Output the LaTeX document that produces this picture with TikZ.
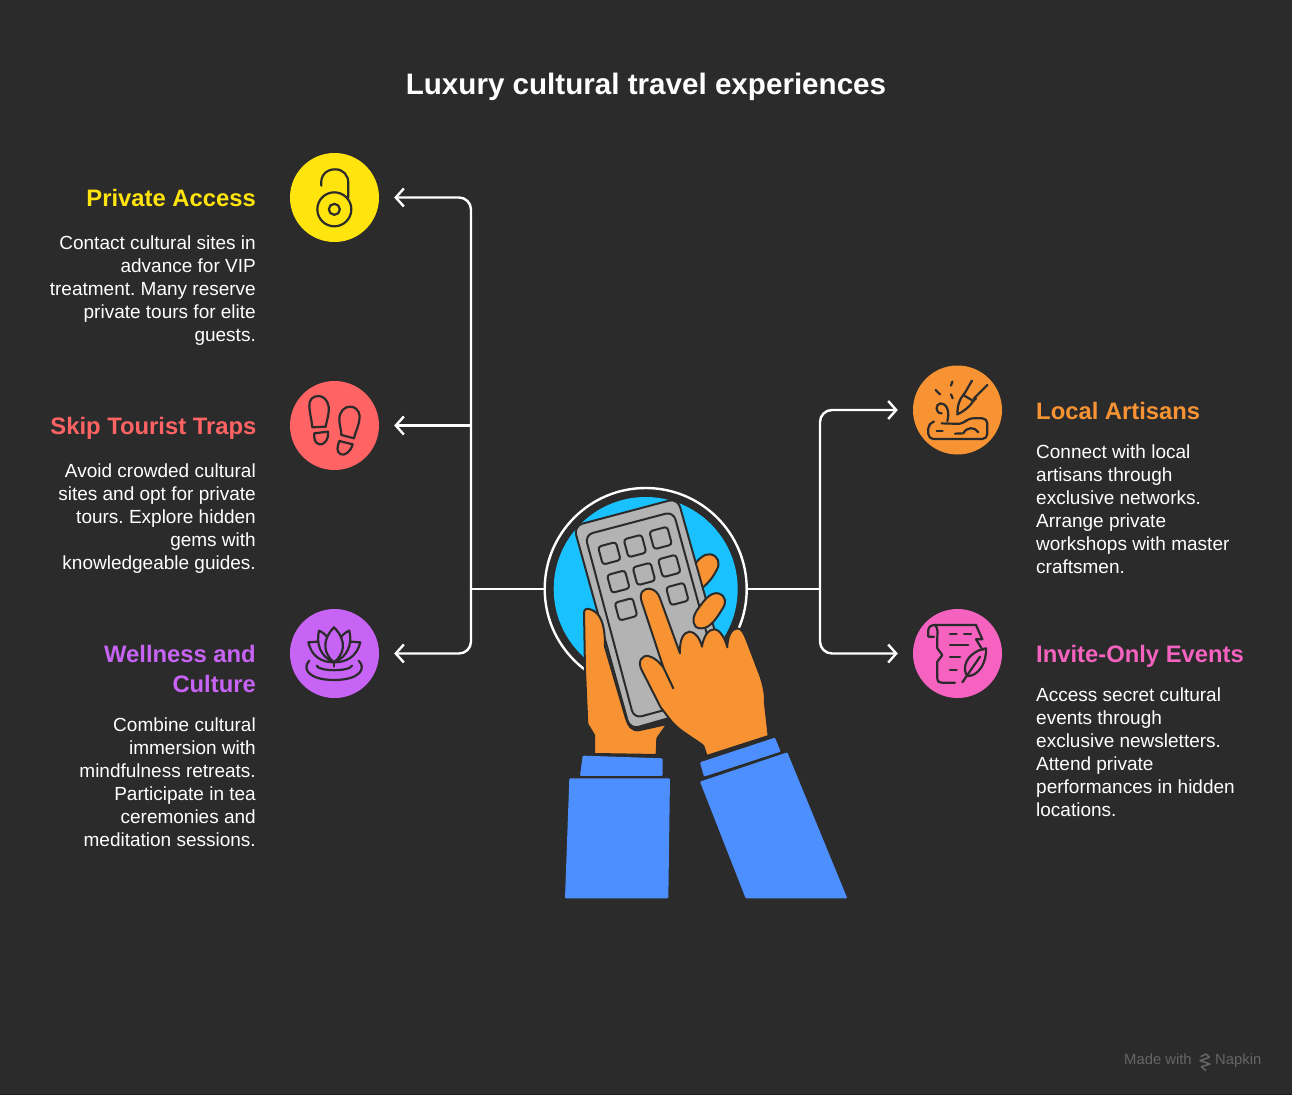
\documentclass[tikz,border=0pt]{standalone}
\usepackage{fontspec}
\setmainfont{Liberation Sans}
\usetikzlibrary{arrows.meta}
\frenchspacing
\definecolor{bg}{HTML}{2B2B2B}
\definecolor{cedge}{HTML}{1C1C1C}
\definecolor{cyel}{HTML}{FFE40D}
\definecolor{cred}{HTML}{FF6363}
\definecolor{cpur}{HTML}{C763F5}
\definecolor{cora}{HTML}{F79333}
\definecolor{cpin}{HTML}{F562C0}
\definecolor{cblu}{HTML}{1AC1FF}
\definecolor{csle}{HTML}{4D8FFF}
\definecolor{cgry}{HTML}{B3B3B3}
\definecolor{cfoot}{HTML}{666666}
\tikzset{
 iconball/.style={circle,minimum size=89pt,inner sep=0pt,fill=#1},
 conn/.style={draw=white,line width=2.4pt,-{Straight Barb[length=8pt,width=18pt,line width=2.4pt]}},
 trunk/.style={draw=white,line width=2.4pt},
 ink/.style={draw=bg,line width=2.2pt,line cap=round,line join=round},
 handink/.style={draw=bg,line width=2pt,line join=round,line cap=round},
 head/.style={inner sep=0pt,font=\bfseries\fontsize{23.8}{30}\selectfont},
 body/.style={inner sep=0pt,text=white,font=\fontsize{19}{23}\selectfont},
 key/.style={draw=bg,line width=2pt,fill=cgry,rounded corners=3pt,minimum size=18.5pt,inner sep=0pt,rotate=15},
 foot/.style={inner sep=0pt,text=cfoot,anchor=base west,font=\fontsize{14.8}{16}\selectfont},
}
\begin{document}
\begin{tikzpicture}[x=1pt,y=-1pt]
\useasboundingbox (0,0) rectangle (1292,1095);
\fill[bg] (0,0) rectangle (1292,1095);
\fill[cedge] (0,1093.5) rectangle (1292,1095);

\node[inner sep=0pt,text=white,anchor=base,font=\bfseries\fontsize{29.6}{36}\selectfont] (title) at (646,94) {Luxury cultural travel experiences};

% hub and icon balls
\fill[cblu] (645.7,589) circle (92);
\node[circle,draw=white,line width=2.4pt,minimum size=202pt,inner sep=0pt] (hub) at (645.7,589) {};
\node[iconball=cyel] (ipriv) at (334.5,197.5) {};
\node[iconball=cred] (iskip) at (334.5,425.5) {};
\node[iconball=cpur] (iwell) at (334.5,653.5) {};
\node[iconball=cora] (ilocal) at (957.5,410) {};
\node[iconball=cpin] (iinv) at (957.5,653.5) {};

% connectors
\coordinate (jl) at (471,589);
\coordinate (jr) at (820,589);
\coordinate (al) at (471,425.5);
\draw[trunk] (hub.west) -- (jl);
\draw[trunk] (hub.east) -- (jr);
\draw[conn,rounded corners=12pt] (jl) |- ([xshift=15pt]ipriv.east);
\draw[conn] (al) -- ([xshift=15pt]iskip.east);
\draw[conn,rounded corners=12pt] (jl) |- ([xshift=15pt]iwell.east);
\draw[conn,rounded corners=12pt] (jr) |- ([xshift=-15pt]ilocal.west);
\draw[conn,rounded corners=12pt] (jr) |- ([xshift=-15pt]iinv.west);

% left text
\node[head,text=cyel,anchor=base east] (hpriv) at (256,206.5) {Private Access};
\node[body,anchor=north east,align=right] (tpriv) at (256,235.5) {Contact cultural sites in\\advance for VIP\\treatment. Many reserve\\private tours for elite\\guests.};
\node[head,text=cred,anchor=base east] (hskip) at (256.5,434.5) {Skip Tourist Traps};
\node[body,anchor=north east,align=right] (tskip) at (256,463.5) {Avoid crowded cultural\\sites and opt for private\\tours. Explore hidden\\gems with\\knowledgeable guides.};
\node[head,text=cpur,anchor=north east,align=right] (hwell) at (256,645) {Wellness and\\Culture};
\node[body,anchor=north east,align=right] (twell) at (256,718) {Combine cultural\\immersion with\\mindfulness retreats.\\Participate in tea\\ceremonies and\\meditation sessions.};
% right text
\node[head,text=cora,anchor=base west] (hlocal) at (1036,419.5) {Local Artisans};
\node[body,anchor=north west,align=left] (tlocal) at (1036,444.5) {Connect with local\\artisans through\\exclusive networks.\\Arrange private\\workshops with master\\craftsmen.};
\node[head,text=cpin,anchor=base west] (hinv) at (1036,662.5) {Invite-Only Events};
\node[body,anchor=north west,align=left] (tinv) at (1036,687.5) {Access secret cultural\\events through\\exclusive newsletters.\\Attend private\\performances in hidden\\locations.};

% footer
\node[foot] (fmade) at (1124,1064) {Made with};
\node[foot] (fnap) at (1215,1064) {Napkin};
\begin{scope}[shift={(1110,1040)},x=0.3333pt,y=-0.3333pt]
\draw[cfoot,line width=1.5pt,line join=round] (272,50) -- (288,42) -- (298,52) -- (270,62) -- (300,72) -- (274,80) -- (288,92);
\end{scope}

% central illustration, reference zoom coordinates
\begin{scope}[shift={(530,470)},x=0.3333pt,y=-0.3333pt]
 % sleeves
 \fill[csle,rounded corners=1pt] (158,857) -- (398,865) -- (398,918) -- (150,918) -- cycle;
 \fill[csle,rounded corners=1pt] (118,925) -- (420,925) -- (415,1285) -- (105,1285) -- cycle;
 \fill[csle,rounded corners=1pt] (510,877) -- (735,803) -- (752,845) -- (522,920) -- cycle;
 \fill[csle,rounded corners=1pt] (510,935) -- (772,847) -- (952,1285) -- (647,1285) -- cycle;
 % ring finger behind keypad
 \path[fill=cora,handink] (490,290) .. controls (505,265) and (525,250) .. (542,253) .. controls (565,258) and (572,280) .. (560,300) .. controls (550,320) and (535,340) .. (515,355) -- cycle;
 % keypad
 \path[fill=cgry,handink,rounded corners=9pt] (131,168) -- (443,85) -- (612,688) -- (300,778) -- cycle;
 \path[handink,rounded corners=8pt] (165,195) -- (430,125) -- (580,672) -- (312,745) -- cycle;
 \foreach \n/\cx/\cy in {a/238/250,b/315/228,c/392/204,d/265/335,e/342/312,f/418/288,g/288/418,h/442/372}
   \node[key] (k\n) at (\cx,\cy) {};
 % left hand
 \path[fill=cora,handink] (162,425) .. controls (165,412) and (180,415) .. (195,425) .. controls (215,440) and (225,470) .. (225,530) -- (285,735) .. controls (295,770) and (305,785) .. (330,780) -- (412,762) -- (382,805) -- (380,855) -- (192,852) -- (192,795) -- (172,762) -- (165,600) -- cycle;
 % middle finger
 \path[fill=cora,handink] (497,470) .. controls (485,455) and (490,435) .. (505,415) .. controls (520,395) and (540,365) .. (565,370) .. controls (590,378) and (590,400) .. (575,420) .. controls (560,445) and (540,475) .. (515,475) .. controls (508,475) and (502,475) .. (497,470) -- cycle;
 % right hand
 \path[fill=cora,handink] (530,858) -- (520,828) .. controls (500,810) and (450,785) .. (425,755) -- (392,712) -- (335,600) .. controls (322,575) and (335,555) .. (355,558) .. controls (375,562) and (390,580) .. (400,592) -- (335,395) .. controls (325,365) and (345,355) .. (358,356) .. controls (375,358) and (385,370) .. (390,385) -- (450,550) .. controls (448,510) and (460,487) .. (478,485) .. controls (495,485) and (510,505) .. (516,530) .. controls (520,500) and (535,478) .. (552,478) .. controls (570,478) and (585,505) .. (592,532) .. controls (592,500) and (605,475) .. (622,475) .. controls (635,475) and (642,490) .. (650,510) -- (692,620) .. controls (705,660) and (705,680) .. (705,700) -- (716,798) -- cycle;
 \draw[handink] (400,592) -- (430,655);
\end{scope}

% lock and footprints
\begin{scope}[shift={(280,140)},x=0.3333pt,y=-0.3333pt]
 \draw[ink] (163,208) circle (17pt);
 \draw[ink] (163,208) circle (5.5pt);
 \draw[ink] (124,137) .. controls (120,105) and (140,88) .. (165,88) .. controls (190,88) and (205,105) .. (205,130) -- (205,172);
 \draw[ink] (97,862) -- (137,860) .. controls (142,835) and (148,820) .. (146,800) .. controls (143,780) and (130,768) .. (115,768) .. controls (98,768) and (86,780) .. (88,800) .. controls (90,825) and (95,840) .. (97,862) -- cycle;
 \draw[ink] (103,880) -- (144,875) .. controls (147,900) and (130,917) .. (118,913) .. controls (105,910) and (101,895) .. (103,880) -- cycle;
 \draw[ink] (184,885) -- (222,895) .. controls (228,870) and (240,850) .. (239,828) .. controls (237,810) and (225,800) .. (210,800) .. controls (193,800) and (178,815) .. (178,838) .. controls (178,855) and (184,870) .. (184,885) -- cycle;
 \draw[ink] (178,903) -- (218,913) .. controls (212,935) and (195,948) .. (182,943) .. controls (168,935) and (172,920) .. (178,903) -- cycle;
\end{scope}

% lotus
\begin{scope}[shift={(280,600)},x=0.3333pt,y=-0.3333pt]
 \draw[ink] (162,82) .. controls (120,125) and (135,165) .. (162,187) .. controls (190,165) and (205,125) .. (162,82) -- cycle;
 \draw[ink] (142,112) .. controls (135,102) and (125,95) .. (117,92) .. controls (108,130) and (120,170) .. (162,187);
 \draw[ink] (182,112) .. controls (190,102) and (200,95) .. (208,92) .. controls (217,130) and (205,170) .. (162,187);
 \draw[ink] (112,125) -- (85,127) .. controls (95,170) and (125,187) .. (162,187) .. controls (200,187) and (230,170) .. (241,127) -- (213,125);
 \draw[ink] (88,182) .. controls (65,205) and (85,240) .. (162,240) .. controls (240,240) and (260,205) .. (236,182);
 \draw[ink] (110,197) .. controls (115,215) and (210,215) .. (216,197);
 \draw[ink] (162,187) -- (162,200);
\end{scope}

% artisan
\begin{scope}[shift={(900,355)},x=0.3333pt,y=-0.3333pt]
 \draw[ink,rounded corners=5pt] (125,205) -- (188,207) -- (205,190) -- (262,190) -- (262,252) -- (85,252) -- (85,205) -- (102,200);
 \draw[ink] (142,198) .. controls (150,170) and (140,145) .. (122,145) .. controls (105,147) and (105,175) .. (125,175);
 \draw[ink] (172,178) .. controls (172,150) and (180,130) .. (190,120) -- (220,138) .. controls (210,155) and (190,170) .. (172,178) -- cycle;
 \draw[ink] (195,113) -- (216,77);
 \draw[ink] (222,130) -- (262,90);
 \draw[ink] (190,120) -- (195,113) (220,138) -- (228,130);
 \draw[ink] (107,105) -- (120,118) (157,80) -- (153,92) (153,118) -- (158,130);
 \draw[ink] (110,227) -- (128,227);
 \draw[ink] (165,236) -- (190,235) .. controls (200,215) and (225,215) .. (235,232);
\end{scope}

% scroll and quill
\begin{scope}[shift={(900,600)},x=0.3333pt,y=-0.3333pt]
 \draw[ink] (102,110) -- (85,110) -- (85,90) .. controls (85,80) and (95,75) .. (105,75) -- (228,75) -- (247,118) -- (228,118) -- (248,150);
 \draw[ink] (105,75) .. controls (115,85) and (112,100) .. (112,110) -- (112,145) -- (127,165) -- (112,185) -- (112,235) .. controls (112,245) and (118,248) .. (125,248) -- (165,248);
 \draw[ink] (150,103) -- (170,103) (192,103) -- (213,103) (150,135) -- (205,135) (150,172) -- (180,172) (150,210) -- (170,210);
 \draw[ink] (258,145) .. controls (225,150) and (195,175) .. (195,205) .. controls (195,220) and (200,228) .. (207,228) .. controls (235,225) and (260,190) .. (258,145) -- cycle;
 \draw[ink] (187,247) -- (240,170);
\end{scope}
\end{tikzpicture}
\end{document}
